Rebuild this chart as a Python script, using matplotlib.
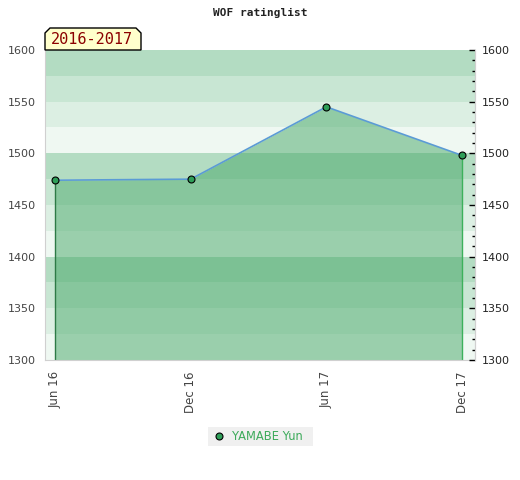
import matplotlib
matplotlib.use("Agg")
import matplotlib.pyplot as plt
from matplotlib.patches import Polygon, Rectangle
from matplotlib.ticker import MultipleLocator

# data
dates = ['Jun 16', 'Dec 16', 'Jun 17', 'Dec 17']
ratings = [1474, 1475, 1545, 1498]
player = 'YAMABE Yun'
period = '2016-2017'
title = 'WOF ratinglist'

fig = plt.figure(figsize=(5.2, 4.8), dpi=100)
ax = fig.add_axes([45/520, 1-360/480, 430/520, 310/480])

# striped background, 25 points per band
band_cols = ['#b3dcc2', '#c8e6d3', '#dcefe3', '#eff8f2']
for i, lo in enumerate(range(1575, 1299, -25)):
    ax.axhspan(lo, lo+25, color=band_cols[i % 4], lw=0, zorder=0)

x = list(range(len(dates)))
ax.fill_between(x, ratings, 1300, color='#47a868', alpha=0.5, lw=0, zorder=1)
ax.plot([x[0], x[0]], [1300, ratings[0]], color='#2d7a46', lw=1, zorder=2)
ax.plot([x[-1], x[-1]], [1300, ratings[-1]], color='#3cb15b', lw=1, zorder=2)
ax.plot(x, ratings, color='#5b9bd5', lw=1.2, zorder=3)
ax.plot(x, ratings, 'o', ms=5, mfc='#2e9e58', mec='black', mew=0.8, zorder=4)

ax.set_xlim(-10/135.67, 3 + 13/135.67)
ax.set_ylim(1300, 1600)
ax.set_xticks(x)
ax.set_xticklabels(dates, rotation=90, color='#444444', fontsize=8.5)
ax.set_yticks(range(1300, 1601, 50))
ax.tick_params(axis='x', length=0, pad=8)
ax.tick_params(axis='y', length=0, pad=6.5, labelsize=8, labelcolor='#444444')
for s in ['left', 'bottom']:
    ax.spines[s].set_color('#d0d0d0')
ax.spines['top'].set_visible(False)
ax.spines['right'].set_color('#d0d0d0')

ax2 = ax.twinx()
ax2.set_ylim(1300, 1600)
ax2.yaxis.set_major_locator(MultipleLocator(50))
ax2.yaxis.set_minor_locator(MultipleLocator(10))
ax2.tick_params(axis='y', which='major', direction='in', length=4, width=1, pad=5, labelsize=8, labelcolor='#222222')
ax2.tick_params(axis='y', which='minor', direction='in', length=2, width=1)
for s in ['left', 'top', 'bottom']:
    ax2.spines[s].set_visible(False)
ax2.spines['right'].set_color('#d0d0d0')

fig.text(260/520, 1-13/480, title, ha='center', va='center', family='DejaVu Sans Mono',
         fontweight='bold', fontsize=8, color='#222222')

# period label box with clipped corners
px = [45, 45, 50, 136, 141, 141]
py = [50, 33, 28, 28, 33, 50]
box = Polygon([(a/520, 1-b/480) for a, b in zip(px, py)], closed=True,
              transform=fig.transFigure, facecolor='#ffffcc', edgecolor='black', lw=1)
fig.patches.append(box)
fig.text(92/520, 1-40/480, period, ha='center', va='center', family='DejaVu Sans Mono',
         fontsize=11, color='#8b0000')

# legend
leg = Rectangle((208/520, 1-446/480), 105/520, 19/480, transform=fig.transFigure,
                facecolor='#f0f0f0', edgecolor='none')
fig.patches.append(leg)
fig.lines.append(plt.Line2D([219/520], [1-436/480], marker='o', ms=5, mfc='#2e9e58',
                            mec='black', mew=0.8, transform=fig.transFigure))
fig.text(232/520, 1-436/480, player, ha='left', va='center', fontsize=8.3, color='#3caa5a')

fig.savefig('out.png', dpi=100)
